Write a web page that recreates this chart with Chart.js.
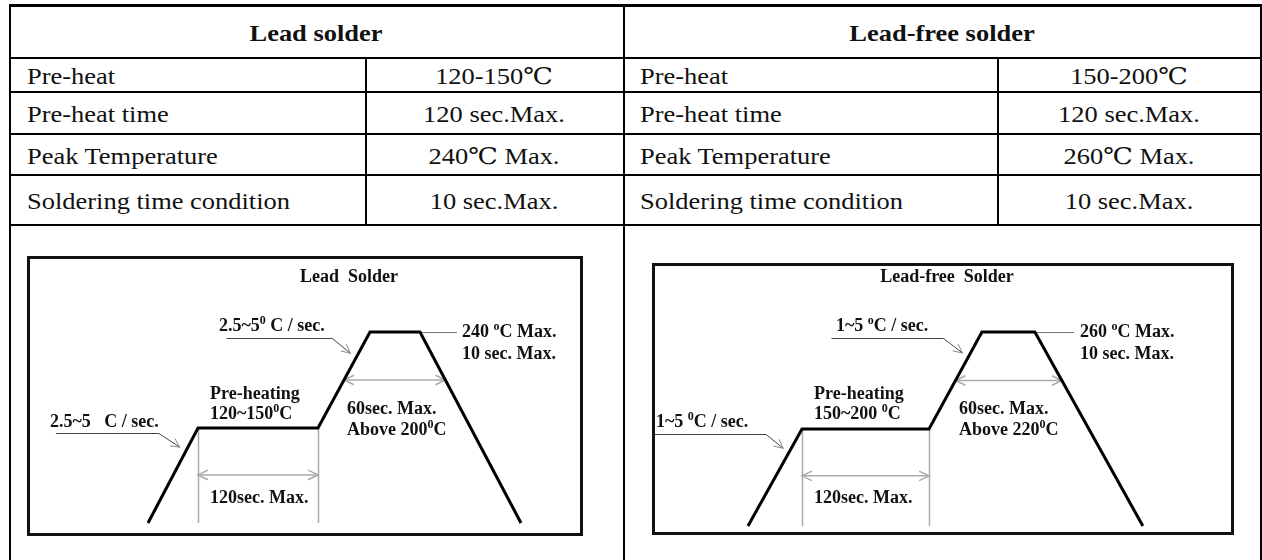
<!DOCTYPE html>
<html>
<head>
<meta charset="utf-8">
<script src="https://cdn.jsdelivr.net/npm/chart.js@4.4.0/dist/chart.umd.min.js"></script>
<style>
  body { margin: 0; background: #fff; width: 1262px; height: 560px; overflow: hidden; position: relative; font-family: "Liberation Serif", "DejaVu Serif", serif; color: #111; }
  .ln { position: absolute; background: #000; }
  .txt { position: absolute; font-size: 23px; line-height: 1; white-space: nowrap; }
  .left { transform-origin: left center; transform: translateY(-50%) scaleX(1.15); }
  .mid { transform: translate(-50%, -50%) scaleX(1.15); }
  .bold { font-weight: bold; }
  canvas { position: absolute; }
</style>
</head>
<body>
<canvas id="leadChart" width="556" height="280" style="left:27px;top:256px"></canvas>
<canvas id="freeChart" width="582" height="272" style="left:652px;top:263px"></canvas>
<script>
// table text
const tableHeaders = ["Lead solder", "Lead-free solder"];
const rowLabels = ["Pre-heat", "Pre-heat time", "Peak Temperature", "Soldering time condition"];
const leadValues = ["120-150℃", "120 sec.Max.", "240℃ Max.", "10 sec.Max."];
const leadFreeValues = ["150-200℃", "120 sec.Max.", "260℃ Max.", "10 sec.Max."];

// reflow profiles (time in s, temperature in °C)
const leadTime = [0, 50, 170, 222, 272, 373];
const leadTemp = [61, 150, 150, 240, 240, 61];
const leadFreeTime = [0, 51, 171, 221, 271, 373];
const leadFreeTemp = [140, 200, 200, 260, 260, 140];
// levels of the "60sec. Max." and "120sec. Max." arrows
const leadLevels = [195, 106];
const leadFreeLevels = [230, 171];

// ---- table grid ----
const rowLines = [4, 57, 91, 133, 174, 224];
const colX = [9, 365, 623, 997, 1260];

function line(x, y, w, h) {
  const d = document.createElement("div");
  d.className = "ln";
  d.style.cssText = `left:${x}px;top:${y}px;width:${w}px;height:${h}px`;
  document.body.appendChild(d);
}
function text(str, x, y, cls) {
  const d = document.createElement("div");
  d.className = "txt " + cls;
  d.textContent = str;
  d.style.left = x + "px";
  d.style.top = y + "px";
  document.body.appendChild(d);
}

line(colX[0], rowLines[0], colX[4] - colX[0] + 2, 3);
rowLines.slice(1).forEach(y => line(colX[0], y, colX[4] - colX[0] + 2, 2));
[colX[0], colX[2], colX[4]].forEach(x => line(x, rowLines[0], 2, 560 - rowLines[0]));
[colX[1], colX[3]].forEach(x => line(x, rowLines[1], 2, rowLines[5] - rowLines[1]));

text(tableHeaders[0], (colX[0] + colX[2]) / 2, (rowLines[0] + rowLines[1]) / 2 + 2, "mid bold");
text(tableHeaders[1], (colX[2] + colX[4]) / 2, (rowLines[0] + rowLines[1]) / 2 + 2, "mid bold");
rowLabels.forEach((lab, i) => {
  const cy = (rowLines[i + 1] + rowLines[i + 2]) / 2 + 2;
  text(lab, 27, cy, "left");
  text(lab, 640, cy, "left");
  text(leadValues[i], (colX[1] + colX[2]) / 2, cy, "mid");
  text(leadFreeValues[i], (colX[3] + colX[4]) / 2, cy, "mid");
});

// ---- diagram drawing helpers ----
const FONT = 'bold 18px "Liberation Serif", serif';
const SUP = 'bold 12px "Liberation Serif", serif';

function drawRuns(ctx, str, x, y, align) {
  // "^c" marks c as superscript
  const parts = [];
  for (let i = 0; i < str.length; i++) {
    if (str[i] === "^") { parts.push([str[i + 1], true]); i++; }
    else if (parts.length && !parts[parts.length - 1][1]) parts[parts.length - 1][0] += str[i];
    else parts.push([str[i], false]);
  }
  let total = 0;
  parts.forEach(p => { ctx.font = p[1] ? SUP : FONT; total += ctx.measureText(p[0]).width; });
  let cx = align === "center" ? x - total / 2 : x;
  ctx.textAlign = "left";
  ctx.textBaseline = "alphabetic";
  parts.forEach(p => {
    ctx.font = p[1] ? SUP : FONT;
    ctx.fillText(p[0], cx, p[1] ? y - 7 : y);
    cx += ctx.measureText(p[0]).width;
  });
}

function head(ctx, x, y, ang, len) {
  ctx.beginPath();
  ctx.moveTo(x - len * Math.cos(ang - 0.45), y - len * Math.sin(ang - 0.45));
  ctx.lineTo(x, y);
  ctx.lineTo(x - len * Math.cos(ang + 0.45), y - len * Math.sin(ang + 0.45));
  ctx.stroke();
}

function timeAt(time, temp, i, T) {
  return time[i] + (time[i + 1] - time[i]) * (T - temp[i]) / (temp[i + 1] - temp[i]);
}

const profilePlugin = {
  id: "profile",
  beforeDatasetsDraw(chart) {
    const { ctx } = chart;
    const c = chart.config.options.plugins.profile;
    const X = v => chart.scales.x.getPixelForValue(v);
    const Y = v => chart.scales.y.getPixelForValue(v);
    const t = c.time, T = c.temp;
    ctx.save();
    ctx.strokeStyle = "#aaa";
    ctx.lineWidth = 1.5;
    // preheat guides
    [1, 2].forEach(i => {
      ctx.beginPath();
      ctx.moveTo(Math.round(X(t[i])) + 0.5, Y(T[i]));
      ctx.lineTo(Math.round(X(t[i])) + 0.5, Y(T[0]));
      ctx.stroke();
    });
    // 120 sec double arrow
    let y = Y(c.levels[1]);
    let x1 = X(t[1]), x2 = X(t[2]);
    ctx.beginPath(); ctx.moveTo(x1, y); ctx.lineTo(x2, y); ctx.stroke();
    head(ctx, x1, y, Math.PI, 11); head(ctx, x2, y, 0, 11);
    // 60 sec double arrow
    y = Y(c.levels[0]);
    x1 = X(timeAt(t, T, 2, c.levels[0]));
    x2 = X(timeAt(t, T, 4, c.levels[0]));
    ctx.beginPath(); ctx.moveTo(x1, y); ctx.lineTo(x2, y); ctx.stroke();
    head(ctx, x1, y, Math.PI, 11); head(ctx, x2, y, 0, 11);
    // peak leader
    ctx.strokeStyle = "#777";
    ctx.lineWidth = 1;
    ctx.beginPath();
    ctx.moveTo(X(t[4]), Y(T[4]) + 0.5);
    ctx.lineTo(X(t[4]) + c.peakLeader, Y(T[4]) + 0.5);
    ctx.stroke();
    // slope leaders
    c.leaders.forEach(L => {
      const tx = X(timeAt(t, T, L.seg, L.temp)) - 8, ty = Y(L.temp);
      const ex = tx + L.elbow[0], ey = ty + L.elbow[1];
      ctx.strokeStyle = "#444";
      ctx.beginPath();
      ctx.moveTo(tx + L.start, Math.round(ey) + 0.5);
      ctx.lineTo(ex, Math.round(ey) + 0.5);
      ctx.lineTo(tx, ty);
      ctx.stroke();
      ctx.strokeStyle = "#888";
      head(ctx, tx, ty, Math.atan2(ty - ey, tx - ex), 10);
    });
    ctx.restore();
  },
  afterDraw(chart) {
    const { ctx, width, height } = chart;
    const c = chart.config.options.plugins.profile;
    ctx.save();
    ctx.strokeStyle = "#111";
    ctx.lineWidth = 3;
    ctx.strokeRect(1.5, 1.5, width - 3, height - 3);
    ctx.fillStyle = "#111";
    c.labels.forEach(l => drawRuns(ctx, l[0], l[1], l[2], l[3]));
    ctx.restore();
  }
};

function makeChart(id, time, temp, xRange, yRange, extra) {
  return new Chart(document.getElementById(id), {
    type: "scatter",
    data: {
      datasets: [{
        data: time.map((v, i) => ({ x: v, y: temp[i] })),
        showLine: true,
        borderColor: "#000",
        borderWidth: 3,
        pointRadius: 0,
        tension: 0
      }]
    },
    options: {
      responsive: false,
      animation: false,
      events: [],
      layout: { padding: 0 },
      scales: {
        x: { type: "linear", display: false, min: xRange[0], max: xRange[1] },
        y: { type: "linear", display: false, min: yRange[0], max: yRange[1] }
      },
      plugins: {
        legend: { display: false },
        tooltip: { enabled: false },
        profile: Object.assign({ time, temp }, extra)
      }
    },
    plugins: [profilePlugin]
  });
}

makeChart("leadChart", leadTime, leadTemp, [-121, 435], [48.75, 311.25], {
  levels: leadLevels,
  peakLeader: 37,
  leaders: [
    { seg: 2, temp: 220, elbow: [-18, -15], start: -124 },
    { seg: 0, temp: 132, elbow: [-21, -14], start: -124 }
  ],
  labels: [
    ["Lead  Solder", 322, 26, "center"],
    ["2.5~5^0 C / sec.", 192, 75],
    ["240 ^oC Max.", 435, 81],
    ["10 sec. Max.", 435, 103],
    ["Pre-heating", 183, 143],
    ["120~150^0C", 183, 163],
    ["2.5~5   C / sec.", 23, 171],
    ["60sec. Max.", 320, 158],
    ["Above 200^0C", 320, 179],
    ["120sec. Max.", 183, 247]
  ]
});

makeChart("freeChart", leadFreeTime, leadFreeTemp, [-90.7, 459.1], [134.4, 302.7], {
  levels: leadFreeLevels,
  peakLeader: 39,
  leaders: [
    { seg: 2, temp: 247, elbow: [-19, -15], start: -131 },
    { seg: 0, temp: 188, elbow: [-17, -14], start: -131 }
  ],
  labels: [
    ["Lead-free  Solder", 295, 19, "center"],
    ["1~5 ^oC / sec.", 184, 68],
    ["260 ^oC Max.", 428, 74],
    ["10 sec. Max.", 428, 96],
    ["Pre-heating", 162, 136],
    ["150~200 ^0C", 162, 156],
    ["1~5 ^0C / sec.", 4, 164],
    ["60sec. Max.", 307, 151],
    ["Above 220^0C", 307, 172],
    ["120sec. Max.", 162, 240]
  ]
});
</script>
</body>
</html>
